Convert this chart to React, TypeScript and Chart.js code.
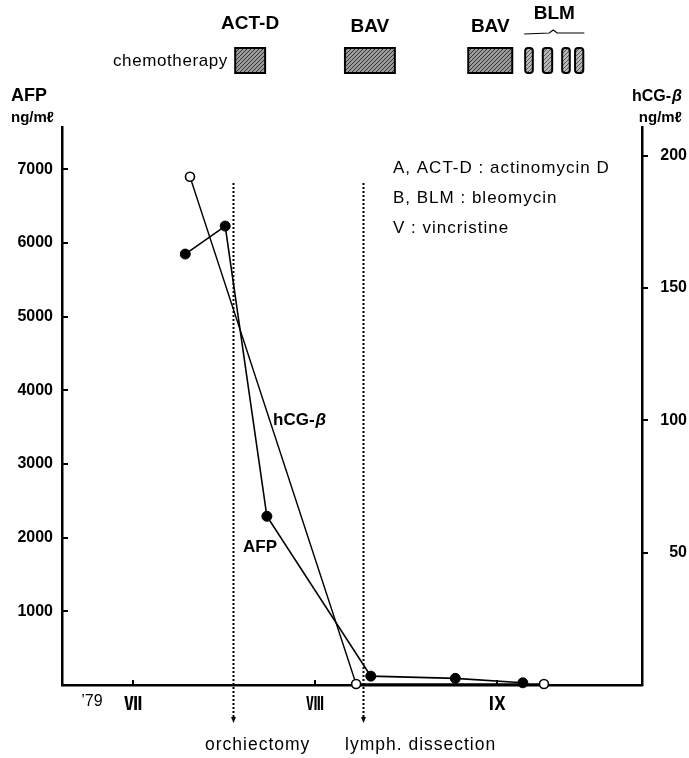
import React, { useEffect, useRef } from "react";
import { Chart, registerables } from "chart.js";
Chart.register(...registerables);

// x = days since 1 July 1979
const afpDays = [8.9, 15.7, 22.8, 40.5, 54.9, 66.4];
const afpValues = [5850, 6230, 2290, 120, 90, 30];
const hcgDays = [9.7, 38.0, 70.0];
const hcgValues = [192, 0.4, 0.4];

const afpTicks = [1000, 2000, 3000, 4000, 5000, 6000, 7000];
const hcgTicks = [50, 100, 150, 200];
const xTickDays = [-7, 0, 31, 62];
const xTickLabels = ["\u201979", "Ⅶ", "Ⅷ", "Ⅸ"];
const monthDays = [0, 31, 62];

const eventDays = [17.0, 39.2];
const eventLabels = ["orchiectomy", "lymph. dissection"];

const chemoNames = ["ACT-D", "BAV", "BAV"];
const chemoPeriods = [
  [17.4, 22.5],
  [36.1, 44.6],
  [57.1, 64.6],
];
const blmName = "BLM";
const blmPeriods = [
  [66.8, 68.1],
  [69.8, 71.4],
  [73.1, 74.4],
  [75.3, 76.7],
];
const legendLines = ["A, ACT-D : actinomycin D", "B, BLM : bleomycin", "V : vincristine"];

const SANS = '"Liberation Sans", Arial, sans-serif';

function makePattern(ctx: CanvasRenderingContext2D, light: boolean) {
  const c = document.createElement("canvas");
  c.width = 4;
  c.height = 4;
  const p = c.getContext("2d")!;
  p.fillStyle = light ? "#b8b8b8" : "#9a9a9a";
  p.fillRect(0, 0, 4, 4);
  p.fillStyle = light ? "#555" : "#333";
  p.fillRect(0, 3, 1, 1);
  p.fillRect(1, 2, 1, 1);
  p.fillRect(2, 1, 1, 1);
  p.fillRect(3, 0, 1, 1);
  return ctx.createPattern(c, "repeat")!;
}

const overlayPlugin = {
  id: "overlay",
  beforeDatasetsDraw(chart: any) {
    const ctx: CanvasRenderingContext2D = chart.ctx;
    const x = chart.scales.x;
    ctx.save();
    ctx.strokeStyle = "#000";
    ctx.fillStyle = "#000";
    ctx.lineWidth = 2;
    ctx.setLineDash([2, 2]);
    eventDays.forEach((d) => {
      const px = Math.round(x.getPixelForValue(d)) + 0.5;
      ctx.beginPath();
      ctx.moveTo(px, 183);
      ctx.lineTo(px, 718);
      ctx.stroke();
    });
    ctx.setLineDash([]);
    eventDays.forEach((d) => {
      const px = Math.round(x.getPixelForValue(d)) + 0.5;
      ctx.beginPath();
      ctx.moveTo(px - 2.5, 717);
      ctx.lineTo(px + 2.5, 717);
      ctx.lineTo(px, 723);
      ctx.closePath();
      ctx.fill();
    });
    ctx.restore();
  },
  afterDraw(chart: any) {
    const ctx: CanvasRenderingContext2D = chart.ctx;
    const x = chart.scales.x;
    const yl = chart.scales.y;
    const yr = chart.scales.y1;
    const area = chart.chartArea;
    ctx.save();
    ctx.strokeStyle = "#000";
    ctx.fillStyle = "#000";
    ctx.lineWidth = 2;
    const line = (x1: number, y1: number, x2: number, y2: number) => {
      ctx.beginPath();
      ctx.moveTo(x1, y1);
      ctx.lineTo(x2, y2);
      ctx.stroke();
    };
    afpTicks.forEach((v) => {
      const py = Math.round(yl.getPixelForValue(v));
      line(area.left, py, area.left + 6, py);
    });
    hcgTicks.forEach((v) => {
      const py = Math.round(yr.getPixelForValue(v));
      line(area.right, py, area.right + 6, py);
    });
    monthDays.forEach((d) => {
      const px = Math.round(x.getPixelForValue(d));
      line(px, area.bottom, px, area.bottom - 5);
    });

    // chemotherapy boxes
    const dark = makePattern(ctx, false);
    const light = makePattern(ctx, true);
    ctx.lineWidth = 2;
    chemoPeriods.forEach((p, i) => {
      const x1 = x.getPixelForValue(p[0]);
      const x2 = x.getPixelForValue(p[1]);
      ctx.fillStyle = dark;
      ctx.fillRect(x1, 48, x2 - x1, 25);
      ctx.strokeRect(x1, 48, x2 - x1, 25);
      ctx.fillStyle = "#000";
      ctx.font = `bold 19px ${SANS}`;
      ctx.textAlign = "center";
      ctx.textBaseline = "middle";
      ctx.fillText(chemoNames[i], (x1 + x2) / 2, i === 0 ? 24 : 27);
    });
    blmPeriods.forEach((p) => {
      const x1 = x.getPixelForValue(p[0]);
      const x2 = x.getPixelForValue(p[1]);
      ctx.fillStyle = light;
      ctx.beginPath();
      (ctx as any).roundRect(x1, 48, x2 - x1, 25, 3);
      ctx.fill();
      ctx.stroke();
    });
    const b1 = x.getPixelForValue(blmPeriods[0][0]);
    const b2 = x.getPixelForValue(blmPeriods[blmPeriods.length - 1][1]);
    const bm = (b1 + b2) / 2;
    ctx.fillStyle = "#000";
    ctx.font = `bold 19px ${SANS}`;
    ctx.textAlign = "center";
    ctx.fillText(blmName, bm, 14);
    ctx.lineWidth = 1.2;
    ctx.beginPath();
    ctx.moveTo(b1 - 1, 34);
    ctx.lineTo(bm - 5, 33);
    ctx.lineTo(bm - 1, 30);
    ctx.lineTo(bm + 3, 33);
    ctx.lineTo(b2 + 1, 33);
    ctx.stroke();

    ctx.font = `17px ${SANS}`;
    ctx.textAlign = "left";
    (ctx as any).letterSpacing = "0.6px";
    ctx.fillText("chemotherapy", 113, 61);
    (ctx as any).letterSpacing = "0px";

    // axis titles
    ctx.font = `bold 18px ${SANS}`;
    ctx.fillText("AFP", 11, 96);
    ctx.font = `bold 15px ${SANS}`;
    ctx.fillText("ng/m\u2113", 11, 118);
    ctx.textAlign = "right";
    ctx.fillText("ng/m\u2113", 682, 118);
    ctx.font = `bold italic 16px ${SANS}`;
    const betaW = ctx.measureText("β").width;
    ctx.fillText("β", 682, 97);
    ctx.font = `bold 16px ${SANS}`;
    ctx.fillText("hCG-", 682 - betaW - 1, 97);

    // legend
    ctx.textAlign = "left";
    ctx.font = `17px ${SANS}`;
    (ctx as any).letterSpacing = "1px";
    legendLines.forEach((t, i) => ctx.fillText(t, 393, 168 + i * 30));

    // curve labels
    (ctx as any).letterSpacing = "0px";
    ctx.font = `bold 17px ${SANS}`;
    ctx.fillText("hCG-", 273, 420);
    const hw = ctx.measureText("hCG-").width;
    ctx.font = `bold italic 17px ${SANS}`;
    ctx.fillText("β", 273 + hw + 1, 420);
    ctx.font = `bold 17px ${SANS}`;
    ctx.fillText("AFP", 243, 547);

    // event labels
    ctx.font = `17.5px ${SANS}`;
    (ctx as any).letterSpacing = "1px";
    ctx.fillText(eventLabels[0], 205, 745);
    ctx.fillText(eventLabels[1], 345, 745);
    ctx.restore();
  },
};

export default function App() {
  const ref = useRef<HTMLCanvasElement>(null);
  useEffect(() => {
    document.body.style.margin = "0";
    const canvas = ref.current!;
    const chart = new Chart(canvas, {
      type: "scatter",
      data: {
        datasets: [
          {
            label: "hCG-β",
            data: hcgDays.map((d, i) => ({ x: d, y: hcgValues[i] })),
            yAxisID: "y1",
            showLine: true,
            borderColor: "#000",
            borderWidth: 1.4,
            pointRadius: 4.5,
            pointBackgroundColor: "#fff",
            pointBorderColor: "#000",
            pointBorderWidth: 1.6,
            clip: false,
          } as any,
          {
            label: "AFP",
            data: afpDays.map((d, i) => ({ x: d, y: afpValues[i] })),
            yAxisID: "y",
            showLine: true,
            borderColor: "#000",
            borderWidth: 1.6,
            pointRadius: 5,
            pointBackgroundColor: "#000",
            pointBorderColor: "#000",
            pointBorderWidth: 1,
            clip: false,
          } as any,
        ],
      },
      options: {
        animation: false,
        responsive: false,
        devicePixelRatio: 1,
        layout: { padding: { top: 127, right: 2, left: 0, bottom: 0 } },
        plugins: { legend: { display: false }, tooltip: { enabled: false } },
        scales: {
          x: {
            type: "linear",
            min: -12.1,
            max: 86.7,
            grid: { display: false, drawTicks: false },
            border: { display: true, color: "#000", width: 2.5 },
            afterFit: (s: any) => {
              s.height = 73;
            },
            afterBuildTicks: (s: any) => {
              s.ticks = xTickDays.map((v) => ({ value: v }));
            },
            ticks: {
              autoSkip: false,
              maxRotation: 0,
              padding: 7,
              color: "#000",
              font: (c: any) =>
                c.index === 0
                  ? { family: SANS, size: 16 }
                  : { family: '"Noto Sans CJK JP"', size: 18, weight: "bold" },
              callback: (_v: any, i: number) => xTickLabels[i],
            },
          },
          y: {
            type: "linear",
            position: "left",
            min: 0,
            max: 7575,
            grid: { display: false, drawTicks: false },
            border: { display: true, color: "#000", width: 2.5 },
            afterFit: (s: any) => {
              s.width = 62;
            },
            afterBuildTicks: (s: any) => {
              s.ticks = afpTicks.map((v) => ({ value: v }));
            },
            ticks: {
              padding: 9,
              color: "#000",
              font: { family: SANS, size: 16, weight: "bold" },
              callback: (v: any) => String(v),
            },
          },
          y1: {
            type: "linear",
            position: "right",
            min: 0,
            max: 210.8,
            grid: { display: false, drawTicks: false },
            border: { display: true, color: "#000", width: 2.5 },
            afterFit: (s: any) => {
              s.width = 45;
            },
            afterBuildTicks: (s: any) => {
              s.ticks = hcgTicks.map((v) => ({ value: v }));
            },
            ticks: {
              crossAlign: "far",
              color: "#000",
              font: { family: SANS, size: 16, weight: "bold" },
              callback: (v: any) => String(v),
            },
          },
        },
      },
      plugins: [overlayPlugin],
    } as any);
    return () => chart.destroy();
  }, []);
  return <canvas ref={ref} width={689} height={758} style={{ display: "block" }} />;
}
